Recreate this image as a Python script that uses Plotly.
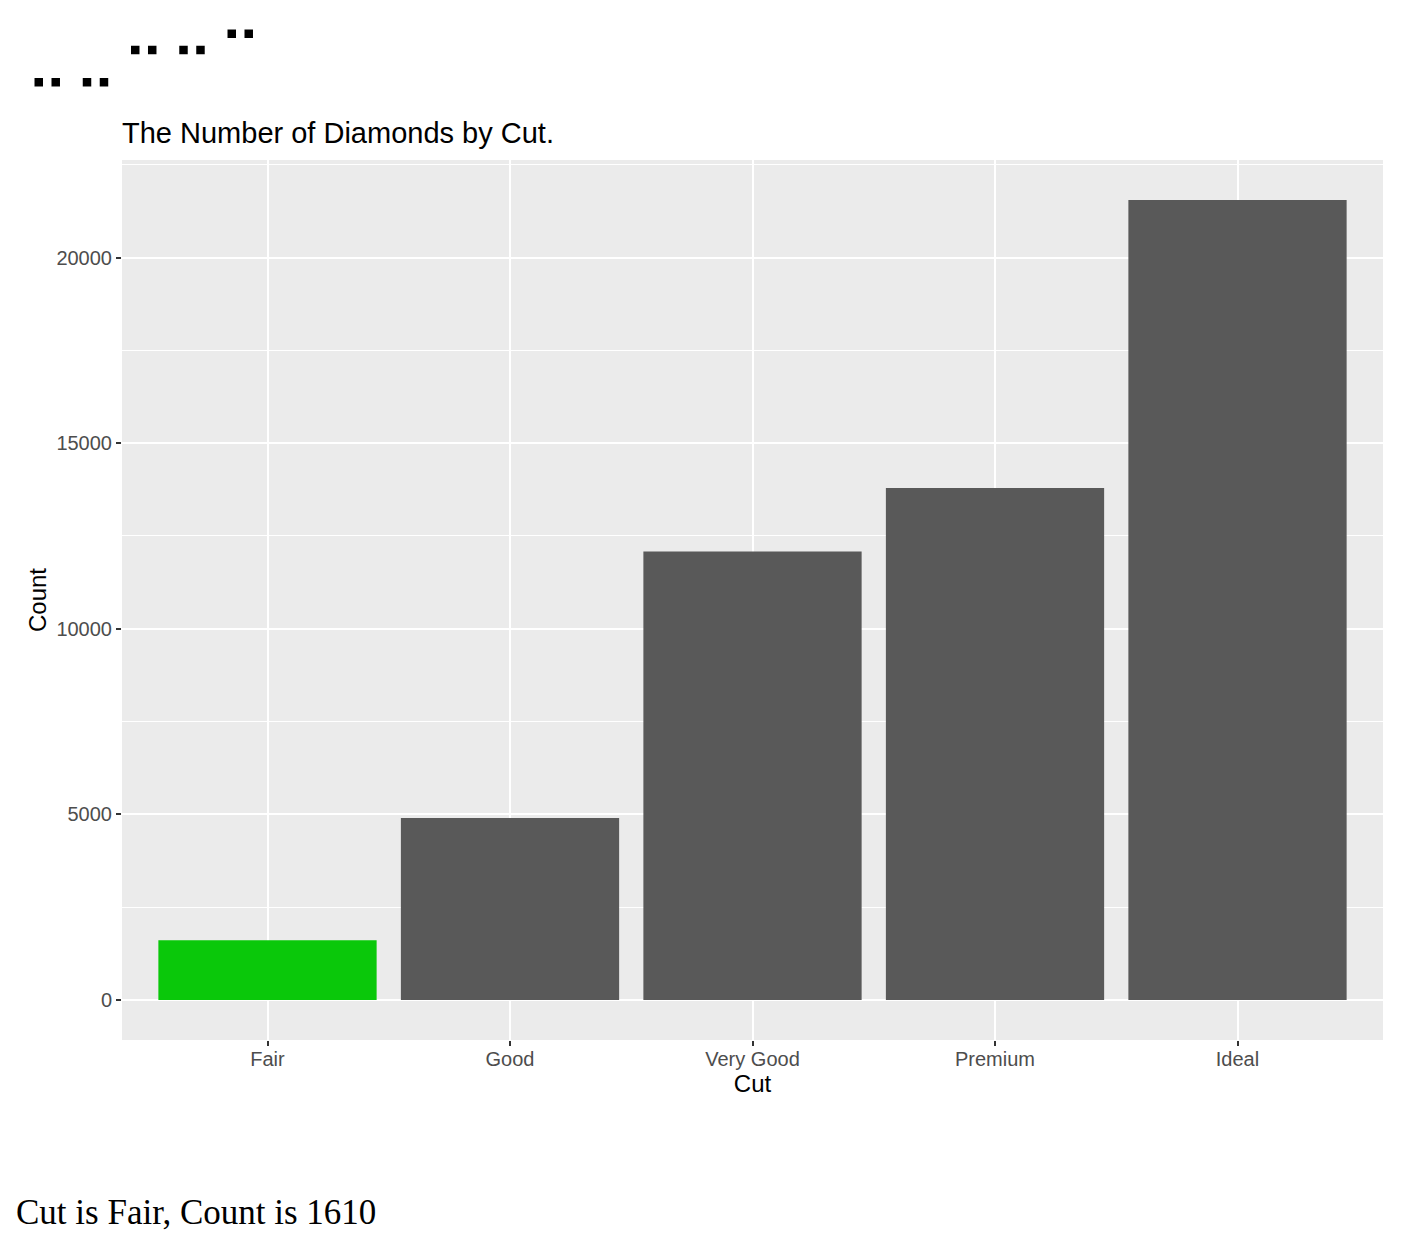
import plotly.graph_objects as go

cuts = ["Fair", "Good", "Very Good", "Premium", "Ideal"]
counts = [1610, 4906, 12082, 13791, 21551]
selected = 0  # bar currently highlighted

y_ticks = [0, 5000, 10000, 15000, 20000]

# braille summary of bar heights: one cell per bar, a dot pair on one of 4 rows
rows = [0xC0, 0x24, 0x12, 0x09]  # bottom row ... top row (both columns)
levels = [min(int(c / max(counts) * 4), 3) for c in counts]
braille = "\u200a".join(chr(0x2800 + rows[lv]) for lv in levels)

colors = ["#0AC80A" if i == selected else "#595959" for i in range(len(cuts))]

fig = go.Figure()
fig.add_trace(go.Bar(x=cuts, y=counts, marker=dict(color=colors, line=dict(width=0)),
                     width=0.9, showlegend=False))

ymax = max(counts)
fig.update_layout(
    width=1404, height=1250,
    margin=dict(l=114, r=29, t=152, b=218),
    plot_bgcolor="#EBEBEB", paper_bgcolor="white",
    font=dict(family="Liberation Sans, Arial, sans-serif", color="black"),
    title=dict(text="The Number of Diamonds by Cut.", x=0, xref="paper", xanchor="left",
               y=1 - 125 / 1250, yref="container", yanchor="middle",
               font=dict(size=29, color="black")),
)
fig.update_xaxes(
    range=[-0.6, 4.6], showgrid=True, gridcolor="white", gridwidth=1.6,
    ticks="outside", ticklen=5, tickwidth=1.5, tickcolor="#333333",
    tickfont=dict(size=20, color="#4D4D4D"), zeroline=False, ticklabelstandoff=-4,
    title=dict(text="Cut", font=dict(size=24, color="black"), standoff=2),
)
fig.update_yaxes(
    range=[-0.05 * ymax, 1.05 * ymax], tickvals=y_ticks, tickformat="d", showgrid=True,
    gridcolor="white", gridwidth=1.6, zeroline=False,
    minor=dict(dtick=2500, tick0=2500, showgrid=True, gridcolor="white", gridwidth=0.8),
    ticks="outside", ticklen=5, tickwidth=1.5, tickcolor="#333333",
    tickfont=dict(size=20, color="#4D4D4D"),
    title=dict(text="Count", font=dict(size=24, color="black"), standoff=2),
)

fig.add_annotation(text=braille, xref="paper", yref="paper",
                   x=(24 - 122) / 1261, y=(1040 - 55) / 880,
                   xanchor="left", yanchor="middle", showarrow=False,
                   font=dict(family="DejaVu Sans", size=58, color="black"))

fig.add_annotation(text=f"Cut is {cuts[selected]}, Count is {counts[selected]}",
                   xref="paper", yref="paper",
                   x=(14 - 122) / 1261, y=(1040 - 1212) / 880,
                   xanchor="left", yanchor="middle", showarrow=False,
                   font=dict(family="Liberation Serif, Times New Roman, serif", size=35,
                             color="black"))

fig.write_html("out.html")
